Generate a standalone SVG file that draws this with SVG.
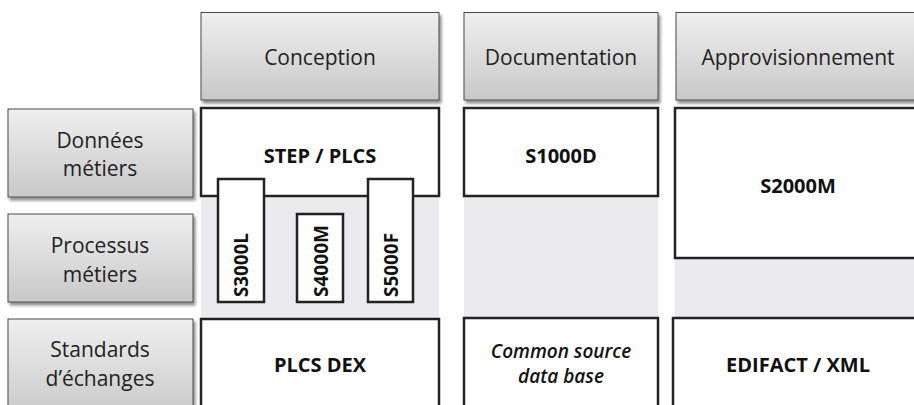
<svg xmlns="http://www.w3.org/2000/svg" width="914" height="405" viewBox="0 0 914 405">
  <defs>
    <linearGradient id="hdrGrad" x1="0" y1="0" x2="0" y2="1">
      <stop offset="0" stop-color="#efefef"/>
      <stop offset="1" stop-color="#c8c8c8"/>
    </linearGradient>
    <filter id="shadow" x="-10%" y="-10%" width="130%" height="140%">
      <feDropShadow dx="2" dy="3" stdDeviation="1.8" flood-color="#000" flood-opacity="0.45"/>
    </filter>
  </defs>
  <style>
    .hdr { fill: url(#hdrGrad); stroke: #4a4a4a; stroke-width: 1; filter: url(#shadow); }
    .cell { fill: #ffffff; stroke: #222222; stroke-width: 2.5; }
    .band { fill: #ebebed; }
    .lbl { font-family: "Open Sans", "Liberation Sans", sans-serif; font-size: 21px; fill: #222222; text-anchor: middle; }
    .std { font-family: "Open Sans", "Liberation Sans", sans-serif; font-size: 20px; font-weight: bold; fill: #111111; text-anchor: middle; }
    .vstd { font-family: "Open Sans", "Liberation Sans", sans-serif; font-size: 20px; font-weight: bold; fill: #111111; }
    .ital { font-family: "Open Sans", "Liberation Sans", sans-serif; font-size: 19px; font-weight: 600; font-style: italic; fill: #111111; text-anchor: middle; }
  </style>

  <rect width="914" height="405" fill="#ffffff"/>

  <!-- grey bands linking each column between its rows -->
  <g id="bands">
    <rect class="band" x="201" y="196" width="238" height="123"/>
    <rect class="band" x="464" y="196" width="194" height="123"/>
    <rect class="band" x="675" y="258" width="245" height="61"/>
  </g>

  <!-- column headers -->
  <g id="col-conception">
    <rect class="hdr" x="201" y="12.5" width="238" height="87.5"/>
    <text class="lbl" x="320" y="65">Conception</text>
  </g>
  <g id="col-documentation">
    <rect class="hdr" x="464" y="12.5" width="194" height="87.5"/>
    <text class="lbl" x="561" y="65">Documentation</text>
  </g>
  <g id="col-approvisionnement">
    <rect class="hdr" x="676" y="12.5" width="250" height="87.5"/>
    <text class="lbl" x="798" y="65">Approvisionnement</text>
  </g>

  <!-- row headers -->
  <g id="row-donnees">
    <rect class="hdr" x="8" y="109" width="185" height="88"/>
    <text class="lbl" x="100" y="148">Données</text>
    <text class="lbl" x="100" y="176">métiers</text>
  </g>
  <g id="row-processus">
    <rect class="hdr" x="8" y="214" width="185" height="88"/>
    <text class="lbl" x="100" y="253">Processus</text>
    <text class="lbl" x="100" y="282">métiers</text>
  </g>
  <g id="row-standards">
    <rect class="hdr" x="8" y="319" width="185" height="100"/>
    <text class="lbl" x="100" y="357">Standards</text>
    <text class="lbl" x="100" y="386">d’échanges</text>
  </g>

  <!-- standards cells -->
  <g id="step-plcs">
    <rect class="cell" x="201" y="108" width="238" height="88"/>
    <text class="std" x="320" y="163">STEP / PLCS</text>
  </g>
  <g id="s1000d">
    <rect class="cell" x="464" y="108" width="194" height="88"/>
    <text class="std" x="561" y="163">S1000D</text>
  </g>
  <g id="s2000m">
    <rect class="cell" x="675" y="108" width="250" height="150"/>
    <text class="std" x="798" y="193">S2000M</text>
  </g>

  <g id="s3000l">
    <rect class="cell" x="218" y="179" width="46" height="123"/>
    <text class="vstd" transform="translate(248,297) rotate(-90)" textLength="64" lengthAdjust="spacingAndGlyphs">S3000L</text>
  </g>
  <g id="s4000m">
    <rect class="cell" x="297" y="214" width="46" height="88"/>
    <text class="vstd" transform="translate(328,297) rotate(-90)" textLength="72" lengthAdjust="spacingAndGlyphs">S4000M</text>
  </g>
  <g id="s5000f">
    <rect class="cell" x="368" y="179" width="45" height="123"/>
    <text class="vstd" transform="translate(398,297) rotate(-90)" textLength="64" lengthAdjust="spacingAndGlyphs">S5000F</text>
  </g>

  <g id="plcs-dex">
    <rect class="cell" x="201" y="319" width="238" height="100"/>
    <text class="std" x="320" y="372">PLCS DEX</text>
  </g>
  <g id="csdb">
    <rect class="cell" x="464" y="318" width="194" height="100"/>
    <text class="ital" x="561" y="358">Common source</text>
    <text class="ital" x="561" y="383">data base</text>
  </g>
  <g id="edifact-xml">
    <rect class="cell" x="673" y="318" width="250" height="100"/>
    <text class="std" x="798" y="372">EDIFACT / XML</text>
  </g>

  <!-- no connectors in this matrix -->
  <g id="connectors"/>
</svg>
